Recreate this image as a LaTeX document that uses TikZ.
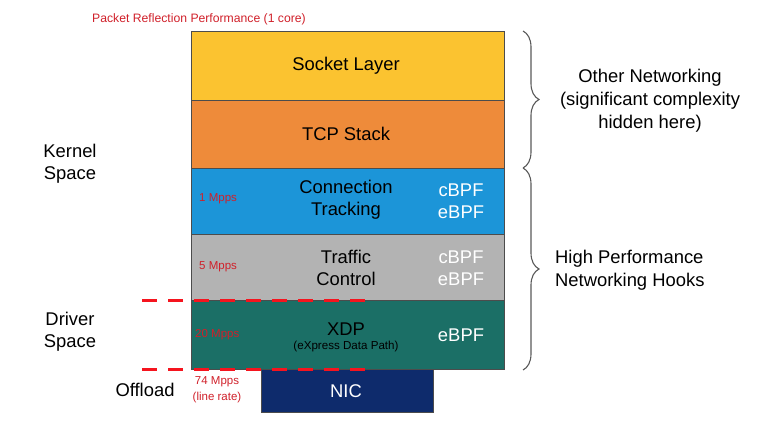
\documentclass[tikz,border=0pt]{standalone}
\usepackage{fontspec}
\setmainfont{Liberation Sans}
\usetikzlibrary{positioning,decorations.pathreplacing}
\definecolor{socketyellow}{HTML}{FBC330}
\definecolor{tcporange}{HTML}{EE8B3A}
\definecolor{conntrackblue}{HTML}{1C95D8}
\definecolor{tcgray}{HTML}{B3B3B3}
\definecolor{xdpteal}{HTML}{1B6F66}
\definecolor{nicnavy}{HTML}{0E2B6C}
\definecolor{ratered}{HTML}{D0202A}
\definecolor{dashred}{HTML}{F5141E}

\begin{document}
\begin{tikzpicture}[x=1pt, y=-1pt,
    layer/.style={rectangle, draw=black!70, line width=0.8pt, minimum width=313pt, minimum height=#1, inner sep=0pt},
    main/.style={font=\fontsize{18.4}{22}\selectfont, align=center, inner sep=0pt},
    bpf/.style={main, text=white},
    rate/.style={font=\fontsize{11.5}{16}\selectfont, text=ratered, align=center, inner sep=0pt},
    side/.style={font=\fontsize{18.4}{23}\selectfont, inner sep=0pt},
    ratedash/.style={dashred, line width=3pt, dash pattern=on 15pt off 11pt},
    hook/.style={decorate, decoration={brace, amplitude=16pt}, draw=black!65, line width=1.1pt}
]
\useasboundingbox (0,0) rectangle (768,436);

% Title
\node[rate, anchor=west, font=\fontsize{12.2}{15}\selectfont] (title) at (92,19) {Packet Reflection Performance (1 core)};

% Stack layers
\node[layer=69pt, fill=socketyellow] (socket) at (347.5,65.5) {};
\node[layer=68pt, fill=tcporange] (tcp) at (347.5,134) {};
\node[layer=66pt, fill=conntrackblue] (conntrack) at (347.5,201) {};
\node[layer=66pt, fill=tcgray] (tc) at (347.5,267) {};
\node[layer=69pt, fill=xdpteal] (xdp) at (347.5,334.5) {};
\node[rectangle, draw=black!70, line width=0.8pt, fill=nicnavy, minimum width=172pt, minimum height=43pt, inner sep=0pt] (nic) at (347,390.5) {};

% Layer texts
\node[main] (sockettxt) at (346,66) {Socket Layer};
\node[main] (tcptxt) at (346,134) {TCP Stack};
\node[main] (conntracktxt) at (346,200) {Connection\\Tracking};
\node[main] (tctxt) at (346,268) {Traffic\\Control};
\node[main] (xdptxt) at (346,329) {XDP};
\node[font=\fontsize{11.6}{14}\selectfont, inner sep=0pt, below=5pt of xdptxt] (xdpsub) {(eXpress Data Path)};
\node[main, text=white] (nictxt) at (346,391) {NIC};

% Hook types
\node[bpf] (conntrackbpf) at (461,201) {cBPF\\eBPF};
\node[bpf] (tcbpf) at (461,268) {cBPF\\eBPF};
\node[bpf] (xdpbpf) at (461,335) {eBPF};

% Rates
\node[rate, anchor=west] (rate1) at (199,199) {1 Mpps};
\node[rate, anchor=west] (rate5) at (199,267) {5 Mpps};
\node[rate, anchor=west] (rate20) at (195,335) {20 Mpps};
\node[rate] (rate74) at (217,390) {74 Mpps\\(line rate)};

% Spaces
\node[main] (kernel) at (70,164) {Kernel\\Space};
\node[main] (driver) at (70,332) {Driver\\Space};
\node[main] (offload) at (145,390) {Offload};

% Boundaries
\draw[ratedash] (142,300) -- (365,300);
\draw[ratedash] (142,369) -- (365,369);

% Braces
\draw[hook] (523,31) -- (523,168);
\draw[hook] (523,168) -- (523,370);
\node[side, align=center] (other) at (650,101) {Other Networking\\(significant complexity\\hidden here)};
\node[side, align=left, anchor=west] (hooks) at (555,270) {High Performance\\Networking Hooks};

\end{tikzpicture}
\end{document}
